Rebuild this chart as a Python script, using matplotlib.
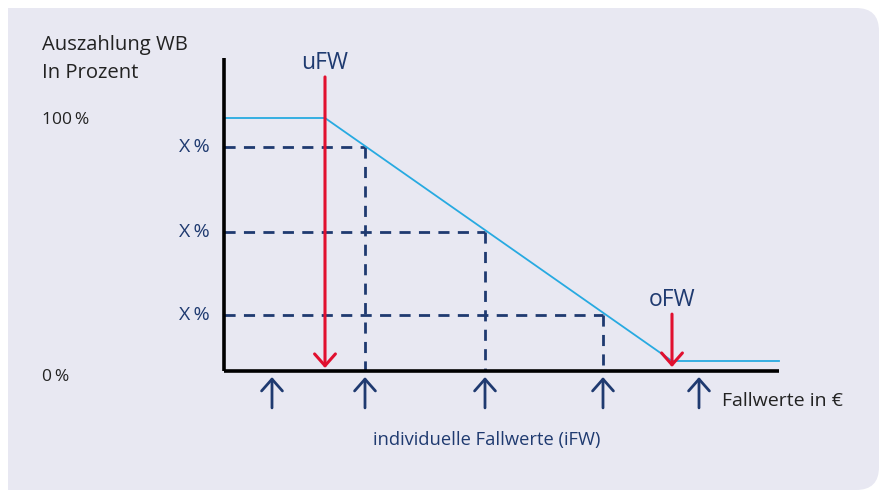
import matplotlib
matplotlib.use("Agg")
import matplotlib.pyplot as plt
from matplotlib.patches import FancyBboxPatch, Rectangle, FancyArrowPatch

# ---- data (x in abstract Fallwert units, y in percent payout) ----
payout_x = [0, 101, 448, 555]
payout_y = [100, 100, 0, 0]
ufw = 101
ofw = 448
ifw_points = [48, 141, 261, 379, 475]
dash_x = [141, 261, 379]
dash_y = [88, 53, 19]
level_labels = ["X\u2009%", "X\u2009%", "X\u2009%"]
y_tick_vals = [100, 0]
y_tick_labels = ["100\u2009%", "0\u2009%"]

NAVY = "#1F3A70"
RED = "#E1102F"
CYAN = "#27AAE1"
BG = "#E8E8F2"
TXT = "#222222"
FONT = ["Open Sans", "DejaVu Sans"]

plt.rcParams["font.family"] = FONT

fig = plt.figure(figsize=(8.8, 4.91), dpi=100)
fig.patch.set_facecolor("white")

# background panel (square left corners, rounded right corners)
fig.patches.append(FancyBboxPatch((8 / 880, 1 / 491), 871 / 880, 482 / 491,
                                  boxstyle="round,pad=0,rounding_size=0.026",
                                  transform=fig.transFigure, facecolor=BG,
                                  edgecolor="none", zorder=-2,
                                  mutation_aspect=880 / 491))
fig.patches.append(Rectangle((8 / 880, 1 / 491), 100 / 880, 482 / 491,
                             transform=fig.transFigure, facecolor=BG,
                             edgecolor="none", zorder=-2))

ax = fig.add_axes([0, 0, 1, 1])
ax.set_zorder(1)
ax.set_xlim(-224, 656)
ax.set_ylim(-53.5, 148.56)
ax.axis("off")

y_axis_bottom = -4.1
y_axis_top = 124.7

# axes lines
ax.plot([0, 0], [y_axis_bottom, y_axis_top], color="black", lw=2.6,
        solid_capstyle="butt", zorder=4)
ax.plot([0, payout_x[-1]], [y_axis_bottom, y_axis_bottom], color="black",
        lw=2.6, solid_capstyle="butt", zorder=4)

# payout curve
ax.plot(payout_x, payout_y, color=CYAN, lw=1.3, zorder=3)

# dashed guide lines
for xv, yv, lab in zip(dash_x, dash_y, level_labels):
    ax.plot([0, xv], [yv, yv], color=NAVY, lw=2, dashes=(4, 3), zorder=2)
    ax.plot([xv, xv], [yv, y_axis_bottom], color=NAVY, lw=2, dashes=(4, 3),
            zorder=2)
    ax.text(-14, yv, lab, ha="right", va="center", color=NAVY, fontsize=14)

# y labels
for yv, lab in zip(y_tick_vals, y_tick_labels):
    ax.text(-182, yv - 1 if yv else yv - 6.5, lab, ha="left", va="center",
            color=TXT, fontsize=12.5)

ax.text(-182, 130.2, "Auszahlung WB", ha="left", va="center", color=TXT,
        fontsize=14.6)
ax.text(-182, 118.6, "In Prozent", ha="left", va="center", color=TXT,
        fontsize=14.6)

# arrows
def arrow(x, y0, y1, color, lw):
    a = FancyArrowPatch((x, y0), (x, y1),
                        arrowstyle="->,head_length=0.85,head_width=0.75",
                        mutation_scale=10, color=color, lw=lw,
                        shrinkA=0, shrinkB=0, zorder=5)
    ax.add_patch(a)

arrow(ufw, 116.9, -2.9, RED, 2.2)
arrow(ofw, 19.3, -2.5, RED, 2.2)
ax.text(ufw, 122.6, "uFW", ha="center", va="center", color=NAVY,
        fontsize=16.5)
ax.text(ofw, 25.2, "oFW", ha="center", va="center", color=NAVY,
        fontsize=16.5)

# iFW arrows
for xv in ifw_points:
    arrow(xv, -19.3, -6.6, NAVY, 2)

ax.text(498, -16.5, "Fallwerte in €", ha="left", va="center", color=TXT,
        fontsize=14)
ax.text(263, -32.5, "individuelle Fallwerte (iFW)", ha="center",
        va="center", color=NAVY, fontsize=13.2)

fig.savefig("out.png", dpi=100, facecolor="white")
